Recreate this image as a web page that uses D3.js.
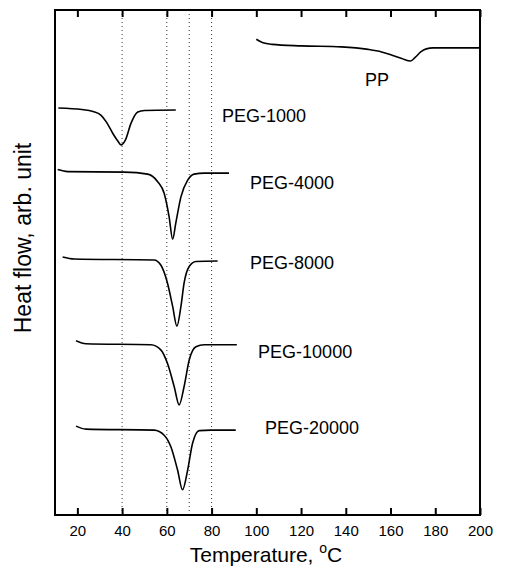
<!DOCTYPE html>
<html>
<head>
<meta charset="utf-8">
<script src="https://cdn.jsdelivr.net/npm/d3@7"></script>
<style>
  body { margin: 0; background: #fff; }
  text { font-family: "Liberation Sans", Arial, sans-serif; fill: #000; }
</style>
</head>
<body>
<div class="container"></div>
<script>
const WIDTH = 505;
const HEIGHT = 568;

// temperature (°C) and heat flow (arb. unit)
var ppT    = [100, 103, 107, 120, 138, 150, 156, 161, 165, 169, 171, 173.5, 176, 179, 185, 200];
var ppHF   = [94.2, 93.5, 93.2, 92.9, 92.7, 92.2, 91.7, 91.0, 90.4, 89.9, 90.6, 91.7, 92.3, 92.5, 92.5, 92.5];

var peg1000T  = [11.5, 22, 27, 30.5, 33, 35.8, 38, 39.5, 41.5, 44, 47, 50, 64];
var peg1000HF = [80.6, 80.3, 79.9, 79.2, 77.8, 75.6, 74.1, 73.3, 74.3, 77.6, 79.8, 80.1, 80.2];

var peg4000T  = [11.2, 15.7, 41, 51.4, 55.9, 58.8, 61.0, 62.6, 64.0, 66.3, 69.3, 72.2, 76.7, 87.8];
var peg4000HF = [68.4, 68.0, 67.9, 67.5, 66.0, 63.7, 59.1, 54.6, 57.8, 63.0, 66.3, 67.5, 67.7, 67.7];

var peg8000T  = [13.4, 18.6, 54.3, 57.3, 60.3, 62.6, 64.5, 66.3, 67.7, 70, 73, 82.7];
var peg8000HF = [51.1, 50.7, 50.5, 49.5, 45.9, 41.3, 37.4, 41.3, 45.9, 49.2, 50.2, 50.3];

var peg10000T  = [19.4, 23.8, 52.9, 57.3, 60.3, 63.3, 65.5, 67.7, 70, 73, 76.7, 91.3];
var peg10000HF = [34.5, 33.9, 33.7, 32.7, 30.0, 25.4, 21.8, 25.4, 30.7, 33.3, 33.7, 33.7];

var peg20000T  = [19.4, 23.8, 54.3, 58.8, 61.8, 64.8, 67.0, 69.3, 71.5, 74.5, 79.7, 90.8];
var peg20000HF = [17.6, 17.0, 16.8, 15.8, 13.5, 8.9, 5.0, 8.9, 14.2, 16.7, 16.8, 16.8];

var seriesNames = ["PP", "PEG-1000", "PEG-4000", "PEG-8000", "PEG-10000", "PEG-20000"];
var seriesT  = [ppT, peg1000T, peg4000T, peg8000T, peg10000T, peg20000T];
var seriesHF = [ppHF, peg1000HF, peg4000HF, peg8000HF, peg10000HF, peg20000HF];

// where each name sits (temperature, heat flow)
var labelT  = [148.6, 84.7, 97.2, 97.2, 100.8, 103.9];
var labelHF = [84.9, 77.9, 64.6, 48.8, 31.1, 16.0];

var guideT = [40, 60, 70, 80];
var xTicks = [20, 40, 60, 80, 100, 120, 140, 160, 180, 200];

var translate = function (x, y) {
    return "translate(" + x + "," + y + ")";
};

var x = d3.scaleLinear().domain([10, 200]).range([55, 480]);
var y = d3.scaleLinear().domain([0, 100]).range([515, 10]);

var svg = d3.select(".container").append("svg")
    .attr("width", WIDTH)
    .attr("height", HEIGHT);

// dotted guides
svg.selectAll(".guide")
    .data(guideT)
    .enter().append("line")
    .attr("class", "guide")
    .attr("x1", function (d) { return x(d); })
    .attr("x2", function (d) { return x(d); })
    .attr("y1", y(100))
    .attr("y2", y(0))
    .attr("stroke", "#333")
    .attr("stroke-width", 1)
    .attr("stroke-dasharray", "1,3");

// bottom axis, ticks pointing inward
var xAxis = d3.axisBottom(x).tickValues(xTicks).tickSizeInner(-7).tickSizeOuter(0).tickPadding(10);
var gx = svg.append("g").attr("transform", translate(0, y(0))).call(xAxis);
gx.select(".domain").remove();
gx.selectAll(".tick line").attr("stroke-width", 2);
gx.selectAll("text")
    .style("font-size", "15px")
    .style("font-family", "Liberation Sans, Arial, sans-serif");

var xTop = d3.axisTop(x).tickValues(xTicks).tickSizeInner(-7).tickSizeOuter(0).tickFormat("");
var gt = svg.append("g").attr("transform", translate(0, y(100))).call(xTop);
gt.select(".domain").remove();
gt.selectAll(".tick line").attr("stroke-width", 2);

// frame
svg.append("rect")
    .attr("x", x(10))
    .attr("y", y(100))
    .attr("width", x(200) - x(10))
    .attr("height", y(0) - y(100))
    .attr("fill", "none")
    .attr("stroke", "#000")
    .attr("stroke-width", 2);

var line = d3.line()
    .x(function (d) { return x(d[0]); })
    .y(function (d) { return y(d[1]); })
    .curve(d3.curveMonotoneX);

seriesNames.forEach(function (name, i) {
    var pts = d3.zip(seriesT[i], seriesHF[i]);
    svg.append("path")
        .datum(pts)
        .attr("d", line)
        .attr("fill", "none")
        .attr("stroke", "#000")
        .attr("stroke-width", 1.6);

    svg.append("text")
        .attr("x", x(labelT[i]))
        .attr("y", y(labelHF[i]))
        .style("font-size", "18px")
        .text(name);
});

// axis titles
var xt = svg.append("text")
    .attr("x", 266)
    .attr("y", 562)
    .attr("text-anchor", "middle")
    .style("font-size", "21px");
xt.append("tspan").text("Temperature, ");
xt.append("tspan").attr("dy", -9).style("font-size", "14px").text("o");
xt.append("tspan").attr("dy", 9).text("C");

svg.append("text")
    .attr("transform", translate(31, 238) + " rotate(-90)")
    .attr("text-anchor", "middle")
    .style("font-size", "23px")
    .text("Heat flow, arb. unit");
</script>
</body>
</html>
